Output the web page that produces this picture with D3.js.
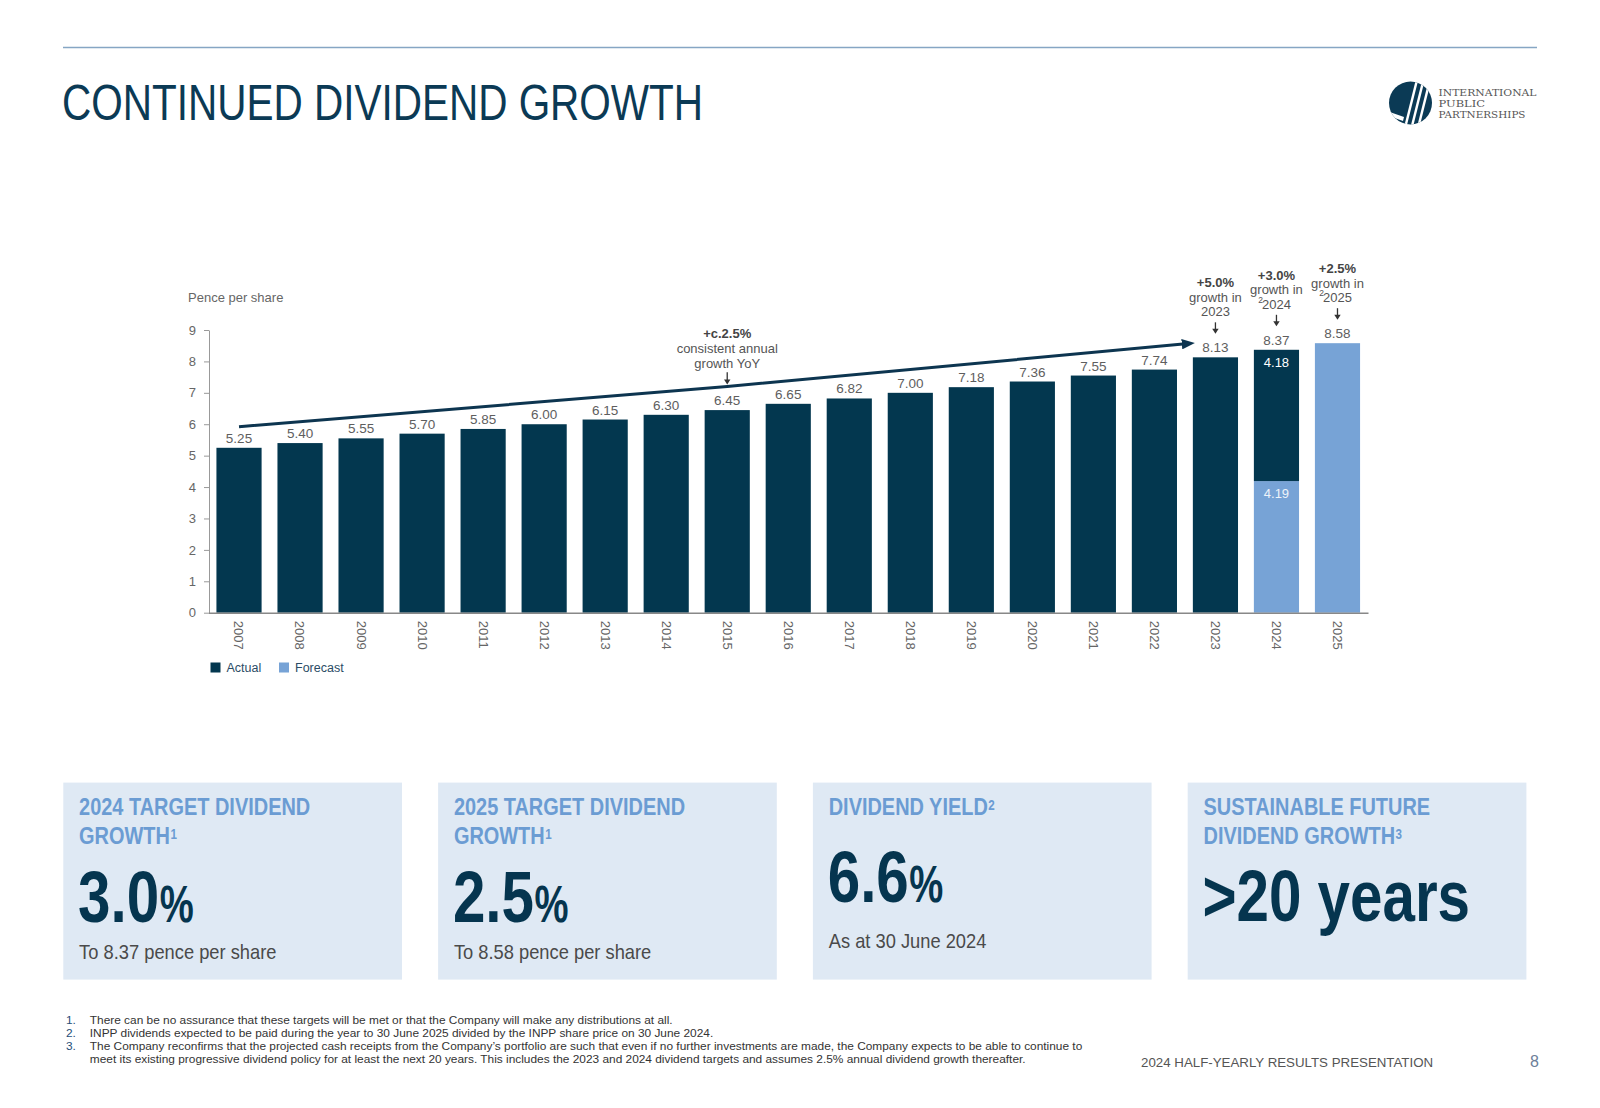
<!DOCTYPE html>
<html><head><meta charset="utf-8">
<script src="https://cdn.jsdelivr.net/npm/d3@7"></script>
<style>body{margin:0;background:#fff} svg{display:block}</style>
</head><body>
<svg id="c" width="1600" height="1108"></svg>
<script>
// ---------------- DATA ----------------
const titleText = "CONTINUED DIVIDEND GROWTH";
const years = ["2007","2008","2009","2010","2011","2012","2013","2014","2015","2016","2017","2018","2019","2020","2021","2022","2023","2024","2025"];
const actual =   [5.25,5.40,5.55,5.70,5.85,6.00,6.15,6.30,6.45,6.65,6.82,7.00,7.18,7.36,7.55,7.74,8.13,4.18,0];
const forecast = [0,0,0,0,0,0,0,0,0,0,0,0,0,0,0,0,0,4.19,8.58];
const totalLabels = ["5.25","5.40","5.55","5.70","5.85","6.00","6.15","6.30","6.45","6.65","6.82","7.00","7.18","7.36","7.55","7.74","8.13","8.37","8.58"];
const innerLabels = [{year:"2024", key:"actual", text:"4.18"},{year:"2024", key:"forecast", text:"4.19"}];
const yTicks = [0,1,2,3,4,5,6,7,8,9];
const yAxisTitle = "Pence per share";
const trendPoints = [{year:"2007", value:5.92, pos:0.5},{year:"2015", value:7.20, pos:0.5},{year:"2023", value:8.57, pos:-0.1}];
const trendNote = {year:"2015", value:7.20, head:"+c.2.5%", lines:["consistent annual","growth YoY"]};
const growthNotes = [
  {year:"2023", head:"+5.0%", lines:["growth in","2023"], sup:""},
  {year:"2024", head:"+3.0%", lines:["growth in","2024"], sup:"2"},
  {year:"2025", head:"+2.5%", lines:["growth in","2025"], sup:"2"}
];
const legendItems = ["Actual","Forecast"];
const kpiHeads = [["2024 TARGET DIVIDEND","GROWTH"],["2025 TARGET DIVIDEND","GROWTH"],["DIVIDEND YIELD"],["SUSTAINABLE FUTURE","DIVIDEND GROWTH"]];
const kpiSups = ["1","1","2","3"];
const kpiValues = ["3.0","2.5","6.6",">20 years"];
const kpiUnits = ["%","%","%",""];
const kpiSubs = ["To 8.37 pence per share","To 8.58 pence per share","As at 30 June 2024",""];
const footNums = ["1.","2.","3.",""];
const footLines = [
  "There can be no assurance that these targets will be met or that the Company will make any distributions at all.",
  "INPP dividends expected to be paid during the year to 30 June 2025 divided by the INPP share price on 30 June 2024.",
  "The Company reconfirms that the projected cash receipts from the Company\u2019s portfolio are such that even if no further investments are made, the Company expects to be able to continue to",
  "meet its existing progressive dividend policy for at least the next 20 years. This includes the 2023 and 2024 dividend targets and assumes 2.5% annual dividend growth thereafter."
];
const footerText = "2024 HALF-YEARLY RESULTS PRESENTATION";
const pageNum = "8";
const logoLines = ["INTERNATIONAL","PUBLIC","PARTNERSHIPS"];

// ---------------- STYLE ----------------
const F = "'Liberation Sans', Arial, Helvetica, sans-serif";
const NAVY = "#03374f", LIGHT = "#77a3d6", BOXBG = "#dfe9f4", HEADBLUE = "#6b9cd3";
const GRAY = "#5e5e5e";

const svg = d3.select("#c");

function condText(parent, txt, x, y, size, weight, sx, fill) {
  return parent.append("text")
    .attr("transform", `translate(${x},${y}) scale(${sx},1)`)
    .attr("font-family", F).attr("font-size", size).attr("font-weight", weight)
    .attr("fill", fill).text(txt);
}

// top rule + title
svg.append("line").attr("x1",63).attr("x2",1537).attr("y1",47.5).attr("y2",47.5)
  .attr("stroke","#86a6c4").attr("stroke-width",1.5);
condText(svg, titleText, 62, 120, 50, 400, 0.81, "#0b3a55");

// logo
const logo = svg.append("g");
logo.append("clipPath").attr("id","lc").append("circle").attr("cx",1410.5).attr("cy",103).attr("r",21.5);
logo.append("circle").attr("cx",1410.5).attr("cy",103).attr("r",21.5).attr("fill","#0b3a55");
const lg = logo.append("g").attr("clip-path","url(#lc)");
[[1417,80,1405,128],[1423.5,80,1411.5,128],[1430,80,1418,128]].forEach(d=>{
  lg.append("line").attr("x1",d[0]).attr("y1",d[1]).attr("x2",d[2]).attr("y2",d[3])
    .attr("stroke","#fff").attr("stroke-width",2.4);
});
lg.append("path").attr("d","M1387,111 L1404,117 L1403,121 L1386,115 Z").attr("fill","#fff");
logoLines.forEach((t,i)=>{
  const tl = [98,46.5,87][i];
  svg.append("text").attr("x",1438.5).attr("y",[96,106.8,118.2][i])
    .attr("font-family","'DejaVu Serif','Liberation Serif',serif").attr("font-size",9.3)
    .attr("fill","#555").attr("textLength",tl).attr("lengthAdjust","spacingAndGlyphs").text(t);
});

// ---------------- CHART ----------------
const rows = years.map((yr,i)=>({year:yr, forecast:forecast[i], actual:actual[i], label:totalLabels[i], total:forecast[i]+actual[i]}));
const x = d3.scaleBand().domain(years).range([208.5,1368]).paddingInner(0.26).paddingOuter(0.13);
const y = d3.scaleLinear().domain([0,9]).range([612.7,330]);
const bw = x.bandwidth();
const cx = yr => x(yr) + bw/2;

const chart = svg.append("g");

// axes
const yAx = chart.append("g").attr("transform",`translate(209,0)`)
  .call(d3.axisLeft(y).tickValues(yTicks).tickSize(5).tickSizeOuter(0).tickPadding(8));
yAx.attr("font-family",F).attr("font-size",13);
yAx.selectAll("text").attr("fill","#666");
yAx.selectAll("line").attr("stroke","#999");
yAx.select(".domain").attr("stroke","#999");

chart.append("text").attr("x",188).attr("y",302).attr("font-family",F).attr("font-size",13)
  .attr("fill","#666").text(yAxisTitle);

// bars
const stack = d3.stack().keys(["forecast","actual"])(rows);
const colors = {forecast:LIGHT, actual:NAVY};
stack.forEach(s=>{
  chart.append("g").selectAll("rect").data(s.filter(d=>d[1]-d[0]>0)).join("rect")
    .attr("x", d=>x(d.data.year)).attr("width", bw)
    .attr("y", d=>y(d[1])).attr("height", d=>y(d[0])-y(d[1]))
    .attr("fill", colors[s.key]);
});

const xAx = chart.append("g").attr("transform",`translate(0,${y(0)})`)
  .call(d3.axisBottom(x).tickSize(0).tickSizeOuter(0));
xAx.attr("font-family",F).attr("font-size",13);
xAx.select(".domain").attr("stroke","#888").attr("stroke-width",1.6);
xAx.selectAll("text").attr("fill","#666").attr("transform","rotate(90)")
  .attr("x",8).attr("y",0).attr("dy","0.35em").attr("text-anchor","start");

// value labels
chart.append("g").selectAll("text").data(rows).join("text")
  .attr("x", d=>cx(d.year)).attr("y", d=>y(d.total)-5)
  .attr("text-anchor","middle").attr("font-family",F).attr("font-size",13.5)
  .attr("fill",GRAY).text(d=>d.label);

// inner labels
innerLabels.forEach(l=>{
  const r = rows.find(d=>d.year===l.year);
  const top = l.key==="actual" ? r.total : r.forecast;
  chart.append("text").attr("x",cx(l.year)).attr("y",y(top)+17)
    .attr("text-anchor","middle").attr("font-family",F).attr("font-size",13)
    .attr("fill", l.key==="actual" ? "#fff" : "#eef3fa").text(l.text);
});

// trend arrow
const defs = svg.append("defs");
defs.append("marker").attr("id","ah").attr("viewBox","0 0 10 8").attr("refX",5).attr("refY",4)
  .attr("markerWidth",4.4).attr("markerHeight",3.5).attr("orient","auto")
  .append("path").attr("d","M0,0 L10,4 L0,8 Z").attr("fill","#0d3550");
const tline = d3.line().x(d=>x(d.year)+d.pos*bw).y(d=>y(d.value)).curve(d3.curveNatural);
chart.append("path").attr("d", tline(trendPoints)).attr("fill","none")
  .attr("stroke","#0d3550").attr("stroke-width",3).attr("marker-end","url(#ah)");

function downArrow(xc, yTop, yBot) {
  chart.append("line").attr("x1",xc).attr("x2",xc).attr("y1",yTop).attr("y2",yBot-3)
    .attr("stroke","#333").attr("stroke-width",1.3);
  chart.append("path").attr("d",`M${xc-3.2},${yBot-5} L${xc+3.2},${yBot-5} L${xc},${yBot} Z`).attr("fill","#333");
}

// growth notes
growthNotes.forEach(n=>{
  const r = rows.find(d=>d.year===n.year);
  const L = y(r.total)-5;
  const xc = cx(n.year);
  downArrow(xc, L-30, L-18.5);
  const lastY = L-36;
  const all = [n.head].concat(n.lines);
  all.forEach((t,i)=>{
    const yy = lastY - (all.length-1-i)*14.5;
    const te = chart.append("text").attr("x",xc).attr("y",yy).attr("text-anchor","middle")
      .attr("font-family",F).attr("font-size",13).attr("fill", i===0 ? "#444" : "#555")
      .attr("font-weight", i===0 ? "bold" : "normal").text(t);
    if (i===all.length-1 && n.sup) {
      const w = te.node().getComputedTextLength();
      chart.append("text").attr("x",xc-w/2+1).attr("y",yy-6).attr("text-anchor","end")
        .attr("font-family",F).attr("font-size",8.5).attr("fill","#555").text(n.sup);
    }
  });
});

// trend note
{
  const xc = cx(trendNote.year);
  const bot = y(trendNote.value)-2;
  downArrow(xc, bot-12.3, bot);
  const all = [trendNote.head].concat(trendNote.lines);
  const lastY = bot-16.7;
  all.forEach((t,i)=>{
    chart.append("text").attr("x",xc).attr("y",lastY-(all.length-1-i)*15).attr("text-anchor","middle")
      .attr("font-family",F).attr("font-size",13).attr("fill", i===0 ? "#444" : "#555")
      .attr("font-weight", i===0 ? "bold" : "normal").text(t);
  });
}

// legend
legendItems.forEach((t,i)=>{
  const lx = [210.5, 279][i];
  chart.append("rect").attr("x",lx).attr("y",662.5).attr("width",10).attr("height",10)
    .attr("fill", i===0 ? NAVY : LIGHT);
  chart.append("text").attr("x",lx+16).attr("y",671.8).attr("font-family",F).attr("font-size",12.5)
    .attr("fill","#2b4c66").text(t);
});

// ---------------- KPI BOXES ----------------
const valueY = [921.7, 921.7, 901.7, 921];
const subY = [959.3, 959.3, 948.3, 0];
kpiHeads.forEach((heads,i)=>{
  const x0 = 63.3 + i*374.8;
  const g = svg.append("g");
  g.append("rect").attr("x",x0).attr("y",782.6).attr("width",338.7).attr("height",197).attr("fill",BOXBG);
  const tx = x0 + 15.8;
  heads.forEach((h,j)=>{
    const by = [815,844][j];
    const te = condText(g, h, tx, by, 23, "bold", 0.867, HEADBLUE);
    if (j===heads.length-1) {
      const w = te.node().getComputedTextLength()*0.867;
      condText(g, kpiSups[i], tx+w+0.5, by-5.5, 14.5, "bold", 0.8, HEADBLUE);
    }
  });
  const v = condText(g, kpiValues[i], tx-1, valueY[i], 72, "bold", 0.81, "#05354f");
  if (kpiUnits[i]) {
    const w = v.node().getComputedTextLength()*0.81;
    condText(g, kpiUnits[i], tx-1+w+0.5, valueY[i], 51, "bold", 0.75, "#05354f");
  }
  if (kpiSubs[i]) condText(g, kpiSubs[i], tx, subY[i], 20, "normal", 0.916, "#4a4a4a");
});

// ---------------- FOOTNOTES ----------------
const fy = [1023.5, 1036.5, 1050, 1062.5];
const fTexts = footLines.map((t,i)=>svg.append("text")
  .attr("font-family",F).attr("font-size",11).attr("fill","#333").text(t));
const natural = fTexts[2].node().getComputedTextLength();
const fsx = 994/natural;
fTexts.forEach((te,i)=>te.attr("transform",`translate(89.8,${fy[i]}) scale(${fsx},1)`));
footNums.forEach((t,i)=>{
  if (!t) return;
  svg.append("text").attr("transform",`translate(66,${fy[i]}) scale(${fsx},1)`)
    .attr("font-family",F).attr("font-size",11).attr("fill","#1f4e79").text(t);
});

svg.append("text").attr("x",1141).attr("y",1066.5).attr("font-family",F).attr("font-size",13.3)
  .attr("fill","#555").text(footerText);
svg.append("text").attr("x",1530).attr("y",1067).attr("font-family",F).attr("font-size",16)
  .attr("fill","#6d7f99").text(pageNum);
</script>
</body></html>
